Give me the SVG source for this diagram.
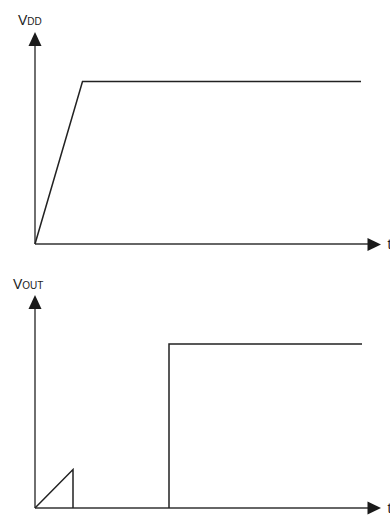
<svg xmlns="http://www.w3.org/2000/svg" width="390" height="517" viewBox="0 0 390 517">
<defs>
<style>
.ax{stroke:#333;stroke-width:1.4;fill:none}
.wf{stroke:#222;stroke-width:1.5;fill:none;stroke-linejoin:miter}
.ah{fill:#1a1a1a}
.big{font-family:"Liberation Sans",Arial,sans-serif;font-size:14px;fill:#222}
.sm{font-family:"Liberation Sans",Arial,sans-serif;font-size:10px;fill:#222}
</style>
</defs>
<rect width="390" height="517" fill="#fff"/>
<g id="connectors">
<g id="top-axes">
<line class="ax" x1="35" y1="244" x2="35" y2="44"/>
<polygon class="ah" points="35,32 28.5,46 41.5,46"/>
<line class="ax" x1="35" y1="244" x2="370" y2="244"/>
<polygon class="ah" points="381,244.5 367.5,238 367.5,251"/>
</g>
<g id="bottom-axes">
<line class="ax" x1="35" y1="508" x2="35" y2="306"/>
<polygon class="ah" points="35,295 28.5,309 41.5,309"/>
<line class="ax" x1="35" y1="508" x2="370" y2="508"/>
<polygon class="ah" points="381,508 367.5,501.5 367.5,514.5"/>
</g>
</g>
<g id="vdd-waveform">
<polyline class="wf" points="35,244 82.5,81.5 361,81.5"/>
</g>
<g id="vout-waveform">
<polyline class="wf" points="35,508 73,469.5 73,508"/>
<polyline class="wf" points="169,508 169,344 362,344"/>
</g>
<g id="labels">
<text class="big" x="18" y="25">V<tspan class="sm" font-size="10">DD</tspan></text>
<text class="big" x="387.5" y="249">t</text>
<text class="big" x="13" y="289">V<tspan class="sm" font-size="10">OUT</tspan></text>
<text class="big" x="387.5" y="513">t</text>
</g>
</svg>
